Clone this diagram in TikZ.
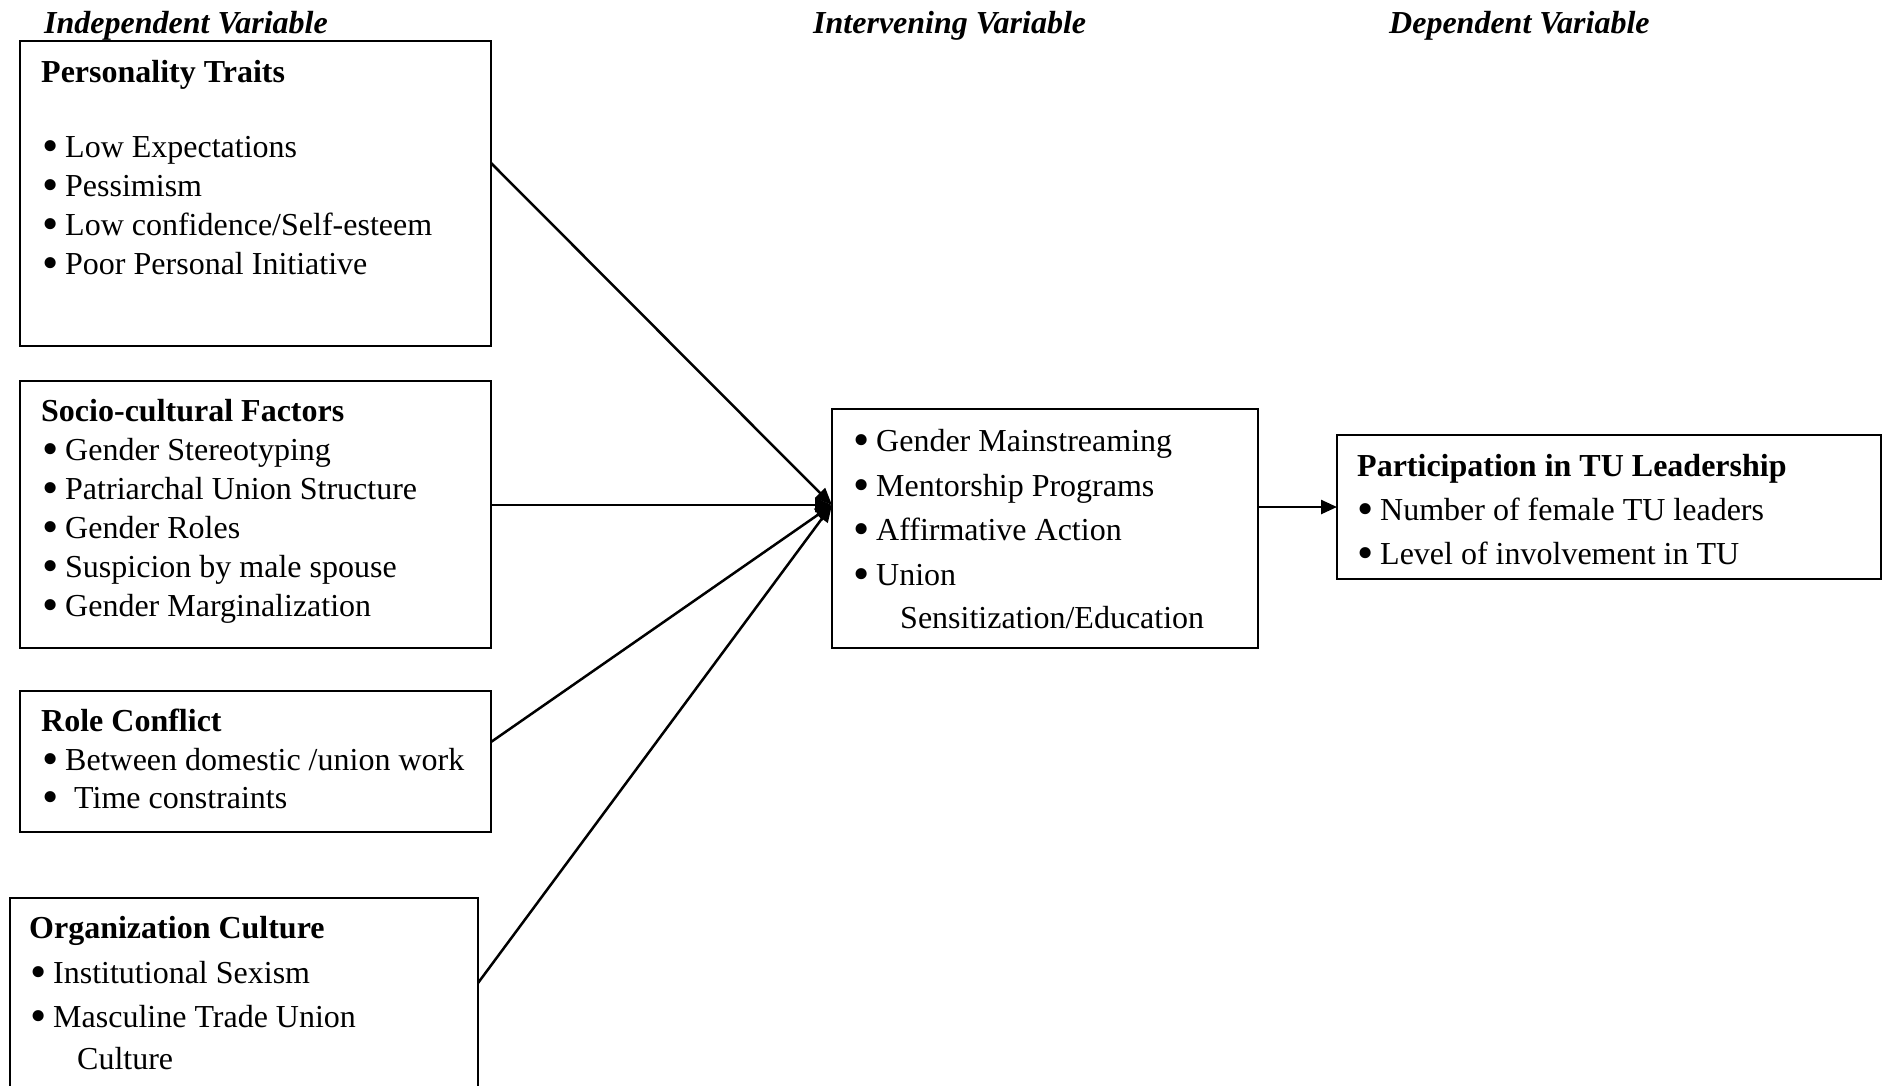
\documentclass[tikz,border=0pt]{standalone}
\usepackage{fontspec}
\setmainfont{Liberation Serif}
\usetikzlibrary{arrows.meta,calc}
\tikzset{
  box/.style={draw, line width=2bp, rectangle, inner sep=0pt, outer sep=0pt, anchor=north west},
  ln/.style={anchor=base west, inner sep=0pt, yshift=-1.5bp, font=\fontsize{32bp}{38bp}\selectfont},
  hd/.style={ln, font=\fontsize{32bp}{38bp}\selectfont\bfseries},
  caption/.style={ln, font=\fontsize{32bp}{38bp}\selectfont\bfseries\itshape},
  conn/.style={line width=2.5bp, -{Triangle[length=17bp,width=14bp]}},
}
\newcommand{\bul}{\makebox[23bp][l]{\smash{\raisebox{-4bp}{\scalebox{1.45}{\textbullet}}}}}
\begin{document}
\begin{tikzpicture}[x=1bp,y=-1bp]
\clip (0,0) rectangle (1885,1085);
\fill[white] (0,0) rectangle (1885,1085);
% column captions
\node[caption] (capI) at (44,32) {Independent Variable};
\node[caption] (capM) at (813,32) {Intervening Variable};
\node[caption] (capD) at (1389,32) {Dependent Variable};
% boxes
\node[box, minimum width=471bp, minimum height=305bp] (b1) at (20,41) {};
\node[box, minimum width=471bp, minimum height=267bp] (b2) at (20,381) {};
\node[box, minimum width=471bp, minimum height=141bp] (b3) at (20,691) {};
\node[box, minimum width=468bp, minimum height=230bp] (b4) at (10,898) {};
\node[box, minimum width=426bp, minimum height=239bp] (mid) at (832,409) {};
\node[box, minimum width=544bp, minimum height=144bp] (dep) at (1337,435) {};
% box 1
\node[hd] (b1h) at (41,81) {Personality Traits};
\node[ln] (b1a) at (42,156) {\bul Low Expectations};
\node[ln] (b1b) at (42,195) {\bul Pessimism};
\node[ln] (b1c) at (42,234) {\bul Low confidence/Self-esteem};
\node[ln] (b1d) at (42,273) {\bul Poor Personal Initiative};
% box 2
\node[hd] (b2h) at (41,420) {Socio-cultural Factors};
\node[ln] (b2a) at (42,459) {\bul Gender Stereotyping};
\node[ln] (b2b) at (42,498) {\bul Patriarchal Union Structure};
\node[ln] (b2c) at (42,537) {\bul Gender Roles};
\node[ln] (b2d) at (42,576) {\bul Suspicion by male spouse};
\node[ln] (b2e) at (42,615) {\bul Gender Marginalization};
% box 3
\node[hd] (b3h) at (41,730) {Role Conflict};
\node[ln] (b3a) at (42,769) {\bul Between domestic /union work};
\node[ln] (b3b) at (42,807) {\bul\hspace{9bp}Time constraints};
% box 4
\node[hd] (b4h) at (29,937) {Organization Culture};
\node[ln] (b4a) at (30,982) {\bul Institutional Sexism};
\node[ln] (b4b) at (30,1026) {\bul Masculine Trade Union};
\node[ln] (b4c) at (77,1068) {Culture};
% intervening box
\node[ln] (ma) at (853,450) {\bul Gender Mainstreaming};
\node[ln] (mb) at (853,495) {\bul Mentorship Programs};
\node[ln] (mc) at (853,539) {\bul Affirmative Action};
\node[ln] (md) at (853,584) {\bul Union};
\node[ln] (me) at (900,627) {Sensitization/Education};
% dependent box
\node[hd] (dh) at (1357,475) {Participation in TU Leadership};
\node[ln] (da) at (1357,519) {\bul Number of female TU leaders};
\node[ln] (db) at (1357,563) {\bul Level of involvement in TU};
% connectors
\coordinate (tip) at ($(mid.north west)+(0,96)$);
\draw[conn] ($(b1.north east)+(0,122)$) -- (tip);
\draw[conn] (b2.east |- tip) -- (tip);
\draw[conn] ($(b3.north east)+(0,51)$) -- (tip);
\draw[conn] ($(b4.north east)+(0,85)$) -- (tip);
\draw[line width=2.5bp, -{Triangle[length=16bp,width=14bp]}] (mid.east |- dep.west) -- (dep.west);
\end{tikzpicture}
\end{document}
